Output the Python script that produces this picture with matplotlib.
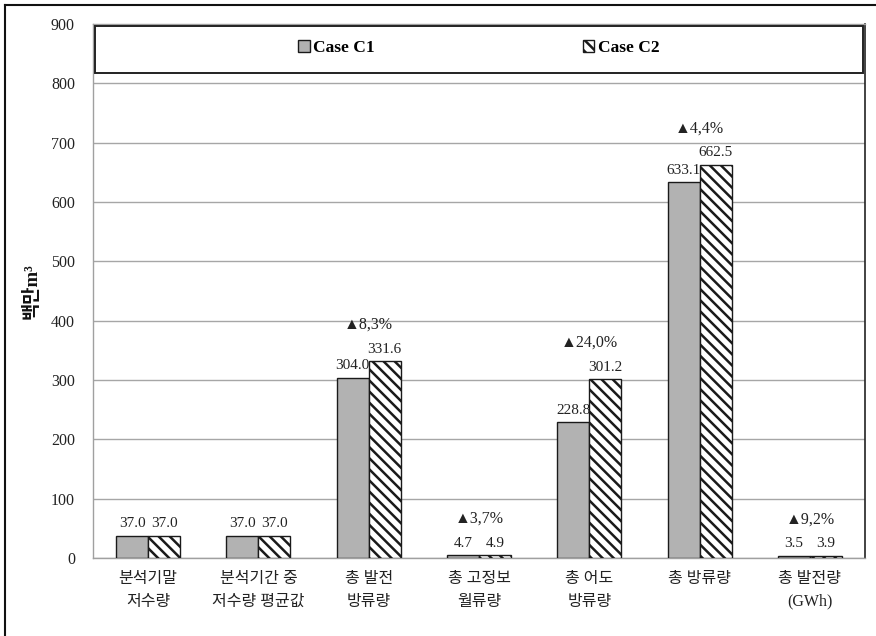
import matplotlib
matplotlib.use("Agg")
import matplotlib.pyplot as plt
import numpy as np
from matplotlib.patches import Rectangle
from matplotlib.lines import Line2D

plt.rcParams['font.family'] = ['Liberation Serif', 'DejaVu Sans', 'Noto Sans CJK KR']
plt.rcParams['hatch.linewidth'] = 1.8

categories = ["분석기말\n저수량", "분석기간 중\n저수량 평균값", "총 발전\n방류량",
              "총 고정보\n월류량", "총 어도\n방류량", "총 방류량", "총 발전량\n(GWh)"]
case_c1 = [37.0, 37.0, 304.0, 4.7, 228.8, 633.1, 3.5]
case_c2 = [37.0, 37.0, 331.6, 4.9, 301.2, 662.5, 3.9]
increase_pct = [None, None, "8,3", "3,7", "24,0", "4,4", "9,2"]
series_names = ["Case C1", "Case C2"]
y_ticks = [0, 100, 200, 300, 400, 500, 600, 700, 800, 900]

fig = plt.figure(figsize=(8.76, 6.36), dpi=100)
ax = fig.add_axes([93/876, 1-558/636, (865-93)/876, (558-24)/636])

x = np.arange(len(categories))
w = 0.29
b1 = ax.bar(x - w/2, case_c1, w, color='#B2B2B2', edgecolor='#1a1a1a', linewidth=1.0,
            zorder=3, label=series_names[0])
b2 = ax.bar(x + w/2, case_c2, w, color='white', edgecolor='#1a1a1a', linewidth=1.0,
            hatch='\\\\\\', zorder=3, label=series_names[1])

# value labels above each bar
for bars, vals in ((b1, case_c1), (b2, case_c2)):
    for rect, v in zip(bars, vals):
        ax.annotate(f"{v:.1f}", (rect.get_x() + rect.get_width()/2, v),
                    xytext=(0, 4), textcoords='offset points', ha='center', va='bottom',
                    fontsize=11, color='#222222')

# increase rate markers
for xi, a, b, p in zip(x, case_c1, case_c2, increase_pct):
    if p is None:
        continue
    ax.text(xi, max(a, b) + 61, f"▲{p}%", ha='center', va='center',
            fontsize=11.5, color='#222222')

ax.set_xlim(-0.5, len(categories) - 0.5)
ax.set_ylim(0, 900)
ax.set_yticks(y_ticks)
ax.set_xticks(x)
ax.set_xticklabels(categories, fontsize=11.5, linespacing=1.6, color='#222222')
ax.tick_params(axis='both', length=0, labelsize=11.5, colors='#222222')
ax.tick_params(axis='x', pad=9)
ax.tick_params(axis='y', pad=13)
ax.grid(axis='y', color='#A6A6A6', linewidth=1.0, zorder=0)
ax.set_axisbelow(True)

for side in ('left', 'bottom', 'top'):
    ax.spines[side].set_color('#A0A0A0')
    ax.spines[side].set_linewidth(1.0)
ax.spines['right'].set_color('#222222')
ax.spines['right'].set_linewidth(1.2)

ax.set_ylabel("백만m³", fontsize=13.5, fontweight='bold', color='#111111')
ax.yaxis.set_label_coords(-0.068, 0.5)

# legend band
band_bottom = (558 - 73) / 534
ax.add_patch(Rectangle((0.002, band_bottom), 0.996, 1 - band_bottom - 0.004,
                       transform=ax.transAxes, facecolor='white', edgecolor='#222222',
                       linewidth=1.4, zorder=4, clip_on=False))
leg = ax.legend(handles=[b1, b2], loc='center', bbox_to_anchor=(0.5, 0.955), ncol=2,
                frameon=False, handlelength=0.65, handleheight=0.65, handletextpad=0.2,
                columnspacing=12.0, prop={'weight': 'bold', 'size': 12.5})
leg.set_zorder(5)

# outer frame
fig.add_artist(Line2D([5/876, 5/876], [1-5/636, 0], transform=fig.transFigure,
                      color='#111111', linewidth=1.5))
fig.add_artist(Line2D([5/876, 1], [1-5/636, 1-5/636], transform=fig.transFigure,
                      color='#111111', linewidth=1.5))

fig.savefig("out.png", dpi=100)
